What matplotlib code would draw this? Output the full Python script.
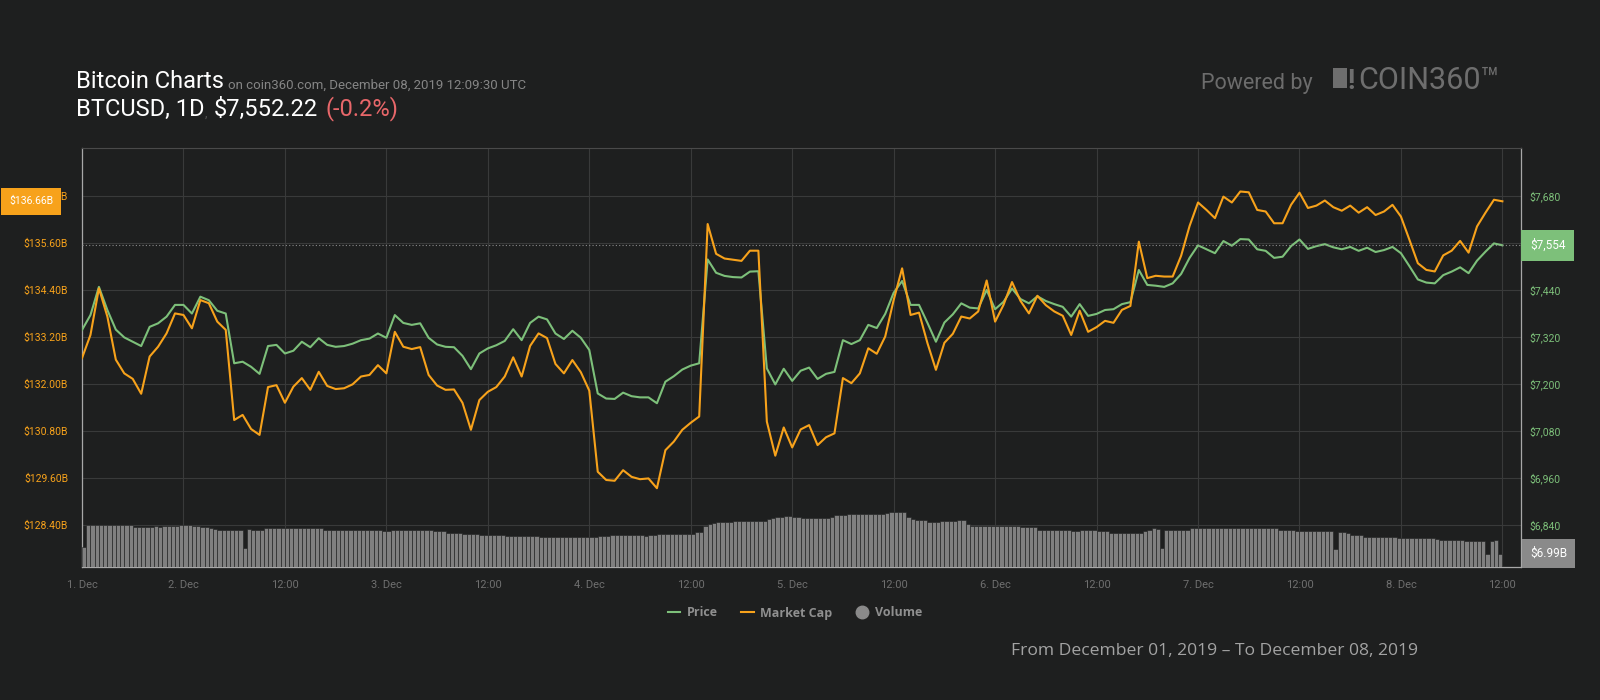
import numpy as np
import matplotlib
matplotlib.use("Agg")
import matplotlib.pyplot as plt
import matplotlib.transforms as mtransforms
from matplotlib.lines import Line2D
from matplotlib.patches import Rectangle

plt.rcParams['font.family'] = ['Roboto', 'DejaVu Sans']

# hourly values from 1 Dec 12:00 to 8 Dec 12:00
price = [
    7338, 7376, 7448, 7389, 7339, 7319, 7308, 7297, 7346, 7355,
    7372, 7402, 7402, 7380, 7423, 7414, 7387, 7380, 7253, 7257,
    7244, 7226, 7297, 7300, 7278, 7285, 7308, 7294, 7317, 7300,
    7295, 7297, 7303, 7312, 7316, 7329, 7318, 7376, 7356, 7351,
    7355, 7318, 7301, 7295, 7294, 7272, 7238, 7278, 7291, 7299,
    7310, 7340, 7312, 7356, 7372, 7365, 7329, 7315, 7336, 7318,
    7287, 7176, 7163, 7162, 7178, 7169, 7166, 7166, 7151, 7206,
    7220, 7237, 7247, 7253, 7518, 7484, 7476, 7473, 7472, 7487,
    7488, 7240, 7199, 7239, 7208, 7234, 7242, 7213, 7226, 7231,
    7312, 7302, 7312, 7351, 7343, 7379, 7433, 7463, 7402, 7402,
    7356, 7308, 7357, 7378, 7406, 7395, 7393, 7440, 7391, 7410,
    7444, 7417, 7406, 7424, 7412, 7404, 7397, 7372, 7404, 7374,
    7379, 7389, 7391, 7404, 7409, 7491, 7453, 7451, 7448, 7457,
    7481, 7522, 7554, 7544, 7534, 7565, 7553, 7570, 7569, 7544,
    7540, 7522, 7525, 7552, 7569, 7545, 7552, 7557, 7549, 7544,
    7550, 7540, 7548, 7537, 7542, 7550, 7534, 7501, 7467, 7459,
    7457, 7478, 7487, 7498, 7483, 7515, 7538, 7559, 7554,
]

market_cap = [
    132.66, 133.25, 134.44, 133.72, 132.62, 132.27, 132.13, 131.75, 132.70, 132.95,
    133.29, 133.80, 133.76, 133.42, 134.14, 134.06, 133.59, 133.38, 131.08, 131.21,
    130.85, 130.70, 131.92, 131.97, 131.52, 131.93, 132.15, 131.85, 132.31, 131.95,
    131.87, 131.89, 131.99, 132.19, 132.23, 132.48, 132.27, 133.33, 132.95, 132.89,
    132.94, 132.23, 131.96, 131.85, 131.86, 131.52, 130.83, 131.59, 131.80, 131.92,
    132.19, 132.68, 132.19, 132.97, 133.29, 133.17, 132.51, 132.27, 132.61, 132.30,
    131.83, 129.76, 129.55, 129.53, 129.80, 129.63, 129.57, 129.59, 129.34, 130.31,
    130.53, 130.83, 131.01, 131.17, 136.08, 135.32, 135.20, 135.17, 135.14, 135.40,
    135.40, 131.04, 130.17, 130.89, 130.38, 130.84, 130.95, 130.44, 130.64, 130.74,
    132.15, 132.02, 132.27, 132.91, 132.77, 133.21, 134.14, 134.95, 133.76, 133.82,
    133.04, 132.36, 133.05, 133.28, 133.72, 133.67, 133.85, 134.64, 133.59, 134.02,
    134.60, 134.12, 133.80, 134.25, 134.01, 133.85, 133.74, 133.25, 133.87, 133.33,
    133.45, 133.61, 133.56, 133.89, 133.99, 135.63, 134.70, 134.76, 134.74, 134.74,
    135.27, 136.03, 136.63, 136.44, 136.23, 136.78, 136.63, 136.91, 136.89, 136.44,
    136.40, 136.10, 136.10, 136.57, 136.88, 136.49, 136.55, 136.68, 136.51, 136.42,
    136.55, 136.37, 136.51, 136.31, 136.40, 136.57, 136.27, 135.68, 135.08, 134.91,
    134.87, 135.28, 135.40, 135.65, 135.35, 136.02, 136.37, 136.70, 136.66,
]

# half-hourly volume, billions USD
volume = [
    10.7, 22.1, 21.9, 22.1, 22.1, 21.9, 21.9, 21.9, 21.9, 21.9, 21.9, 21.9,
    21.2, 21.2, 21.2, 21.2, 21.2, 21.5, 21.2, 21.5, 21.5, 21.5, 21.5, 22.2, 22.2, 22.1,
    21.5, 21.5, 21.2, 21.2, 20.3, 20.1, 19.6, 19.4, 19.4, 19.6, 19.4, 19.4, 9.8, 20.1,
    19.6, 19.6, 19.6, 20.3, 20.3, 20.3, 20.3, 20.3, 20.3, 20.3, 20.3, 20.3, 20.3, 20.3,
    20.3, 20.3, 20.3,
    19.4, 19.4, 19.4, 19.4, 19.4, 19.4, 19.4, 19.4, 19.4, 19.4, 19.4, 19.4, 19.4, 19.4,
    19.1, 19.1,
    19.6, 19.6, 19.6, 19.6, 19.6, 19.6, 19.6, 19.6, 19.6, 19.6, 18.9, 18.7, 18.7,
    18.0, 18.0, 18.0, 18.0,
    17.5, 17.5, 17.5, 17.5, 17.0, 17.0, 17.0, 17.0, 17.0, 16.6, 16.4, 16.4, 16.4, 16.4,
    16.4, 16.4, 16.4, 16.4,
    15.9, 15.9, 15.9, 15.9, 15.9, 15.9, 15.9, 15.9, 15.9, 15.9, 15.9, 15.9, 15.9, 15.9,
    16.4, 16.4, 16.4,
    16.8, 16.8, 16.8, 16.8, 16.8, 16.8, 16.8, 16.6, 16.4, 16.6, 16.8,
    17.5, 17.5, 17.5, 17.5, 17.5, 17.5, 17.5, 17.5, 17.5, 18.2, 18.5,
    21.7, 22.6, 23.3, 23.8, 23.8, 23.8, 23.8, 24.3, 24.3, 24.3, 24.3, 24.3, 24.3,
    24.3, 24.3, 25.0, 25.7, 26.4, 26.4, 26.9, 26.9, 26.4, 26.4,
    25.6, 25.6, 25.6, 25.6, 25.6, 25.6, 25.6, 26.1, 27.3, 27.3, 27.3,
    28.0, 28.0, 28.0, 28.0, 28.0, 28.0, 28.0, 28.0, 28.0, 28.4, 28.7, 28.7, 29.0, 29.0,
    26.3, 25.2, 24.5, 24.5, 24.5, 23.8, 23.8, 23.8, 24.3, 24.3, 24.3, 24.3, 24.8, 24.8,
    22.6,
    21.7, 21.7, 21.7, 21.7, 21.7, 21.7, 21.7, 21.7, 21.7, 21.7, 21.7, 21.7,
    21.2, 21.2, 21.2, 21.2, 19.6, 19.6, 19.6, 19.6, 19.6, 19.6, 19.6, 19.6,
    19.1, 19.1, 19.6, 19.6, 19.6, 19.6, 18.7, 18.7, 18.7, 18.0, 18.0, 18.0, 18.0,
    18.0, 18.0, 18.0, 18.0, 18.7, 19.4, 20.3, 20.1, 9.8,
    19.6, 19.6, 19.6, 19.6, 19.6, 19.6, 20.3, 20.3, 20.3, 20.3, 20.3, 20.3, 20.3, 20.3,
    20.3, 20.3, 20.3, 20.3, 20.6, 20.6, 20.6, 20.3, 20.3, 20.3, 20.3, 20.3, 20.3,
    19.6, 19.6, 19.6, 19.6, 19.1, 19.1, 19.1, 19.1, 19.1, 19.1, 19.1, 19.1, 19.1, 9.3,
    18.5, 18.5, 17.9, 16.6, 16.6, 16.6, 15.9, 15.9, 15.9, 15.9, 15.9, 15.9, 15.9, 15.6,
    15.1, 15.1, 15.1, 15.4, 15.4, 15.4, 15.4, 15.4, 15.4, 14.9,
    14.3, 14.3, 14.3, 14.3, 14.3, 14.3, 13.8, 13.8, 13.8, 13.8, 13.8, 7.0, 13.8, 14.3,
    6.99,
]

x_labels = ['1. Dec', '2. Dec', '12:00', '3. Dec', '12:00', '4. Dec', '12:00', '5. Dec',
            '12:00', '6. Dec', '12:00', '7. Dec', '12:00', '8. Dec', '12:00']
cap_ticks = [128.40, 129.60, 130.80, 132.00, 133.20, 134.40, 135.60, 136.80]
price_ticks = [6840, 6960, 7080, 7200, 7320, 7440, 7560, 7680]

last_price = 7554
last_cap = 136.66
last_volume = 6.99

BG = '#1e1f1f'
GRID = '#393a3a'
GREEN = '#7dc07a'
ORANGE = '#f7a21b'
VOLGREY = '#808080'

W, H = 1600, 700


def fx(x):
    return x / W


def fy(y):
    return 1 - y / H


hours = np.arange(len(price))
vol_hours = np.arange(len(volume)) * 0.5
tick_hours = np.arange(len(x_labels)) * 12

fig = plt.figure(figsize=(16, 7), dpi=100, facecolor=BG)
ax = fig.add_axes([fx(82), fy(567), (1521 - 82) / W, (567 - 148) / H])
ax.set_facecolor(BG)

# base axes: grid and market cap scale
ax.set_xlim(0, 170.2)
ax.set_ylim(127.33, 138.02)
ax.set_xticks(tick_hours)
ax.set_xticklabels(x_labels)
ax.set_yticks(cap_ticks)
ax.set_yticklabels([f'${v:.2f}B' for v in cap_ticks])
ax.grid(True, color=GRID, linewidth=0.8)
ax.set_axisbelow(True)
ax.tick_params(axis='y', colors=ORANGE, labelsize=7.5, length=0, pad=10)
ax.tick_params(axis='x', colors='#6f6f6f', labelsize=8, length=0, pad=9)
for side in ['left', 'bottom', 'right']:
    ax.spines[side].set_color('#a8a8a8')
    ax.spines[side].set_linewidth(0.9)
ax.spines['top'].set_color('#4a4a4a')
ax.spines['top'].set_linewidth(0.8)

# volume
axv = ax.twinx()
axv.set_ylim(0, 220)
axv.set_yticks([])
axv.bar(vol_hours, volume, width=0.5, align='edge', color=VOLGREY,
        edgecolor=BG, linewidth=0.4)

# price (the tick under the last-price box is hidden, as in the original)
axp = ax.twinx()
axp.set_ylim(6733, 7802.5)
axp.set_yticks(price_ticks)
axp.set_yticklabels(['' if abs(v - last_price) < 60 else f'${v:,}' for v in price_ticks])
axp.tick_params(axis='y', colors=GREEN, labelsize=7.5, length=0, pad=6)
axp.plot(hours, price, color=GREEN, linewidth=1.5)
axp.axhline(last_price, color='#8a8a8a', linewidth=0.8, linestyle=(0, (1, 2)))

# market cap line on top
axc = ax.twinx()
axc.set_ylim(ax.get_ylim())
axc.set_yticks([])
axc.plot(hours, market_cap, color=ORANGE, linewidth=1.5)

for a in (axv, axp, axc):
    for s in a.spines.values():
        s.set_visible(False)

# last value boxes
tr_cap = mtransforms.blended_transform_factory(fig.transFigure, ax.transData)
fig.text(fx(9), last_cap, f'${last_cap:.2f}B', transform=tr_cap, ha='left', va='center',
         color='white', fontsize=7.5,
         bbox=dict(boxstyle='square,pad=0.8', fc=ORANGE, ec='none'))
tr_price = mtransforms.blended_transform_factory(fig.transFigure, axp.transData)
fig.text(fx(1530), last_price, f'${last_price:,}', transform=tr_price, ha='left', va='center',
         color='white', fontsize=8.5,
         bbox=dict(boxstyle='square,pad=0.75', fc=GREEN, ec='none'))
tr_vol = mtransforms.blended_transform_factory(fig.transFigure, axv.transData)
fig.text(fx(1530), last_volume, f'${last_volume:.2f}B', transform=tr_vol, ha='left', va='center',
         color='white', fontsize=8.5,
         bbox=dict(boxstyle='square,pad=0.7', fc='#8a8a8a', ec='none'))

# header
t1 = fig.text(fx(76), fy(88), 'Bitcoin Charts', color='white', fontsize=17, va='baseline')
ax.annotate('on coin360.com, December 08, 2019 12:09:30 UTC', xy=(1, 0), xycoords=t1,
            xytext=(3, 1), textcoords='offset points', va='bottom', ha='left',
            color='#858585', fontsize=9.5)
t2 = fig.text(fx(76), fy(116), 'BTCUSD, 1D', color='white', fontsize=17, va='baseline')
t3 = ax.annotate(',', xy=(1, 0), xycoords=t2, xytext=(0, 1), textcoords='offset points',
                 va='bottom', ha='left', color='#555555', fontsize=9)
t4 = ax.annotate('$7,552.22', xy=(1, 0), xycoords=t3, xytext=(5, -1), textcoords='offset points',
                 va='bottom', ha='left', color='white', fontsize=17)
ax.annotate('(-0.2%)', xy=(1, 0), xycoords=t4, xytext=(5, 0), textcoords='offset points',
            va='bottom', ha='left', color='#e8676a', fontsize=17)

fig.text(fx(1201), fy(89), 'Powered by', color='#6c6c6c', fontsize=15.5, va='baseline')
fig.patches.append(Rectangle((fx(1333), fy(88)), 14 / W, 20 / H, transform=fig.transFigure,
                             facecolor='#6e6e6e', edgecolor='none'))
fig.text(fx(1347), fy(89), '!', color='#6e6e6e', fontsize=20, fontweight='bold', va='baseline')
fig.text(fx(1358), fy(89), 'COIN360\u2122', color='#6e6e6e', fontsize=22, va='baseline')

# legend
handles = [Line2D([], [], color=GREEN, linewidth=1.5),
           Line2D([], [], color=ORANGE, linewidth=1.5),
           Line2D([], [], marker='o', linestyle='none', color='#8a8a8a', markersize=9)]
fig.legend(handles, ['Price', 'Market Cap', 'Volume'], loc='center',
           bbox_to_anchor=(fx(795), fy(613)), ncol=3, frameon=False,
           labelcolor='#8f8f8f', handlelength=1.0, handletextpad=0.5, columnspacing=1.9,
           prop={'family': ['Open Sans', 'DejaVu Sans'], 'weight': 'bold', 'size': 9})

fig.text(fx(1418), fy(651), 'From December 01, 2019 \u2013 To December 08, 2019',
         color='#a3a3a3', fontsize=12.6, ha='right', va='center',
         family=['Open Sans', 'DejaVu Sans'])

fig.savefig('out.png', dpi=100, facecolor=BG)
